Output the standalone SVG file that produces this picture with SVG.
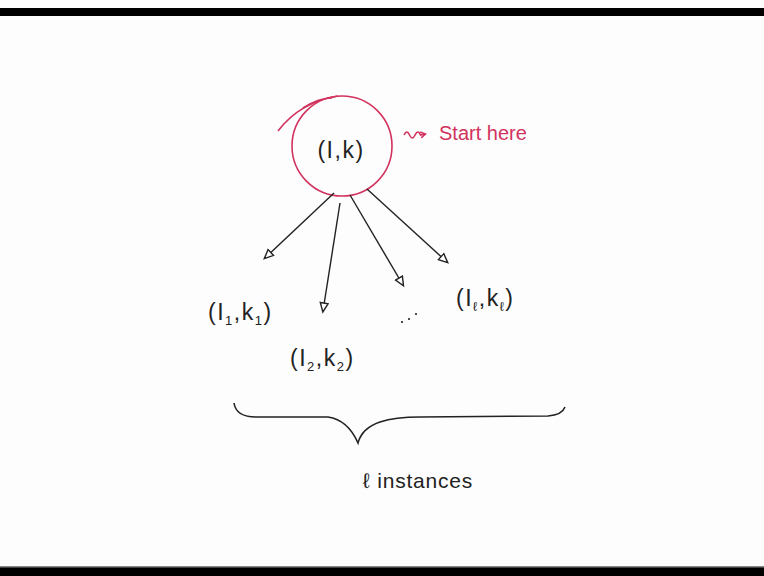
<svg xmlns="http://www.w3.org/2000/svg" width="764" height="576" viewBox="0 0 764 576">
<style>
.t{font-family:"Liberation Sans",Arial,sans-serif;fill:#222;}
.lbl{font-size:23px;letter-spacing:1.5px;}
.red{fill:#d2335e;}
.edge{stroke:#222;stroke-width:1.4;fill:none;marker-end:url(#ah);}
.rs{stroke:#d2335e;stroke-width:1.6;fill:none;}
</style>
<defs>
<marker id="ah" markerWidth="12" markerHeight="12" refX="9" refY="5" orient="auto" markerUnits="userSpaceOnUse">
<path d="M1,1 L10,5 L1,9 Z" fill="#fff" stroke="#222" stroke-width="1.4"/>
</marker>
<marker id="rah" markerWidth="10" markerHeight="10" refX="6" refY="4" orient="auto" markerUnits="userSpaceOnUse">
<path d="M1,1 L6,4 L1,7" fill="none" stroke="#d2335e" stroke-width="1.5"/>
</marker>
</defs>
<rect width="764" height="576" fill="#fdfdfd"/>
<rect x="0" y="8" width="764" height="8" fill="#000"/>
<rect x="0" y="567" width="764" height="9" fill="#000"/>
<rect x="0" y="566" width="764" height="1.5" fill="#888"/>

<g id="root">
<ellipse cx="342" cy="146" rx="50" ry="50" class="rs"/>
<path d="M278,131 Q300,102 338,96" class="rs"/>
<path d="M303,108 Q318,98 332,98" class="rs" stroke-width="1"/>
<text x="341" y="158" class="t lbl" text-anchor="middle">(I,k)</text>
</g>

<g id="start-here">
<path d="M404,135 q3,-6 5.5,0 q3,6 5.5,0 q3,-6 5.5,0 l5,-1" class="rs" marker-end="url(#rah)"/>
<text x="439" y="140" class="t red" font-size="20">Start here</text>
</g>

<g id="n1">
<text x="208" y="320" class="t lbl">(I<tspan font-size="13" dy="5">1</tspan><tspan dy="-5">,k</tspan><tspan font-size="13" dy="5">1</tspan><tspan dy="-5">)</tspan></text>
</g>
<g id="n2">
<text x="290" y="366" class="t lbl">(I<tspan font-size="13" dy="5">2</tspan><tspan dy="-5">,k</tspan><tspan font-size="13" dy="5">2</tspan><tspan dy="-5">)</tspan></text>
</g>
<g id="dots">
<circle cx="402" cy="322" r="1.1" fill="#222"/>
<circle cx="409" cy="319" r="1.1" fill="#222"/>
<circle cx="416" cy="314" r="1.1" fill="#222"/>
</g>
<g id="nl">
<text x="456" y="306" class="t lbl">(I<tspan font-size="13" dy="5">ℓ</tspan><tspan dy="-5">,k</tspan><tspan font-size="13" dy="5">ℓ</tspan><tspan dy="-5">)</tspan></text>
</g>

<g id="connectors">
<path d="M334,193 L265,258" class="edge"/>
<path d="M340,203 L323,311" class="edge"/>
<path d="M350,195 L403,285" class="edge"/>
<path d="M367,189 L447,262" class="edge"/>
</g>

<g id="brace">
<path d="M234,403 Q236,417 256,417 L328,417 Q348,420 358,443 Q362,428 380,422 Q395,417 420,417 L548,416 Q562,415 565,407" fill="none" stroke="#222" stroke-width="1.6"/>
<text x="363" y="488" class="t" font-size="21" letter-spacing="0.8">ℓ instances</text>
</g>
</svg>
